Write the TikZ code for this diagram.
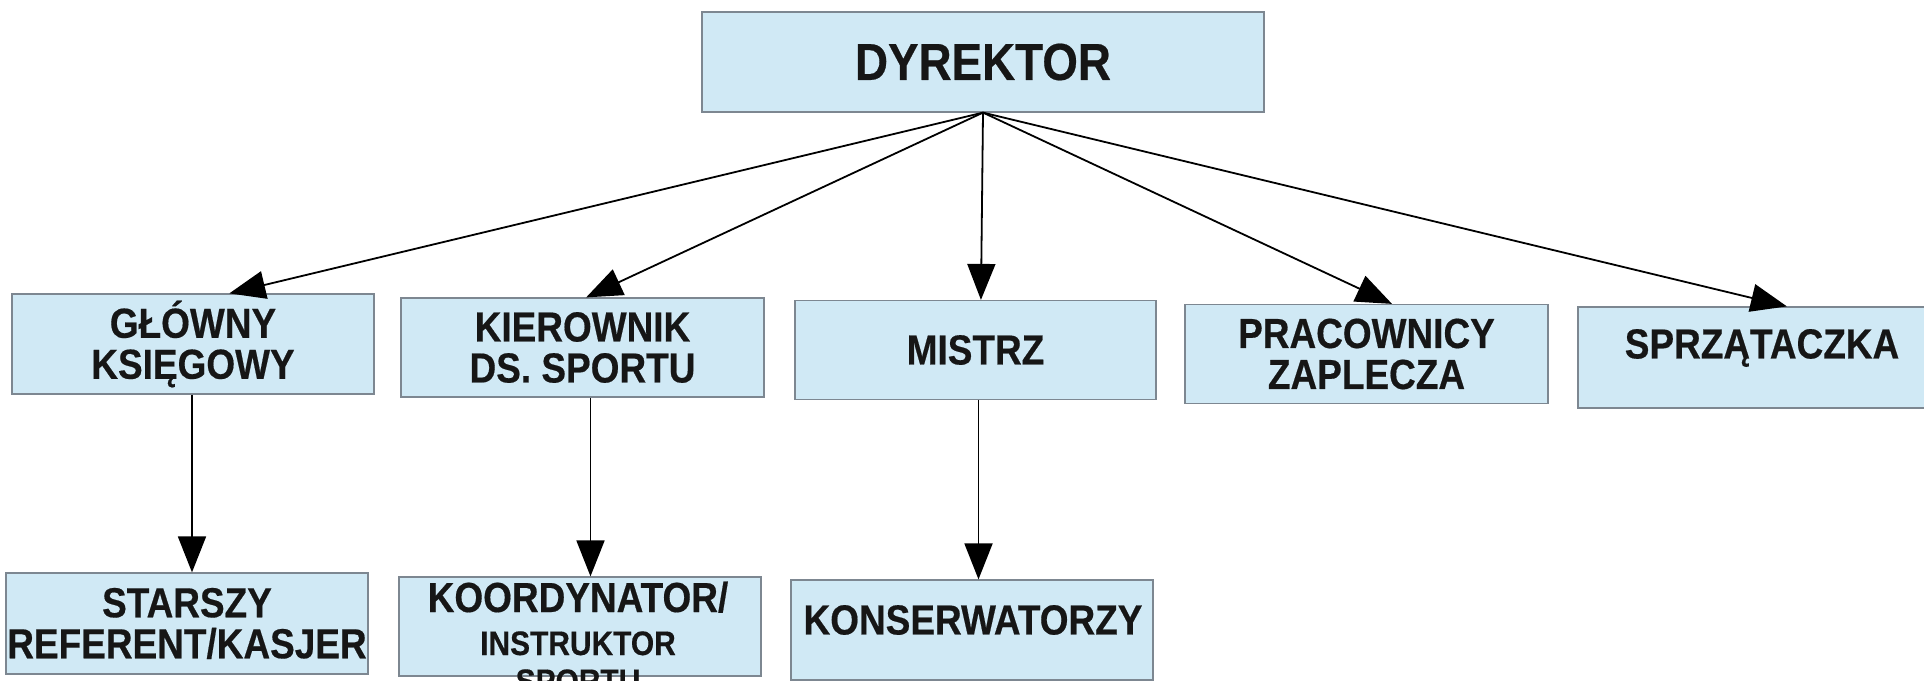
\documentclass[tikz,border=0pt]{standalone}
\usepackage{fontspec}
\setmainfont{Liberation Sans}[FakeStretch=0.88, BoldFeatures={FakeBold=0.4}]
\usetikzlibrary{arrows.meta,calc}
\definecolor{boxfill}{RGB}{208,233,245}
\definecolor{boxline}{RGB}{125,135,145}
\definecolor{ink}{RGB}{22,22,22}
\tikzset{
  box/.style={draw=boxline, fill=boxfill, line width=1.2pt, inner sep=0pt,
    align=center, text=ink, font=\bfseries\fontsize{42}{41}\selectfont},
  lbl/.style={inner sep=0pt, text=ink, font=\bfseries\fontsize{42}{41}\selectfont},
  lblsmall/.style={inner sep=0pt, text=ink, font=\bfseries\fontsize{34}{36}\selectfont},
  conn/.style={draw=black, line width=1.8pt, -{Triangle[length=36pt,width=28pt]}}
}
\begin{document}
\begin{tikzpicture}[x=1pt,y=-1pt]
\useasboundingbox (0,0) rectangle (1924,680);
\clip (0,0) rectangle (1924,680);
\fill[white] (0,0) rectangle (1924,680);

% top
\node[box, minimum width=562pt, minimum height=100pt,
      font=\bfseries\fontsize{52}{56}\selectfont] (dyr) at (983,62) {DYREKTOR};

% second row
\node[box, minimum width=362pt, minimum height=100pt] (glowny) at (193,344) {GŁÓWNY\\KSIĘGOWY};
\node[box, minimum width=363pt, minimum height=99pt] (kier) at (582.5,347.5) {KIEROWNIK\\DS. SPORTU};
\node[box, minimum width=361pt, minimum height=99pt] (mistrz) at (975.5,350) {MISTRZ};
\node[box, minimum width=363pt, minimum height=99pt] (prac) at (1366.5,354) {PRACOWNICY\\ZAPLECZA};
\node[box, minimum width=360pt, minimum height=101pt] (sprz) at (1758,357.5) {};
\node[lbl] (sprzt) at (1762,348) {SPRZĄTACZKA};

% third row
\node[box, minimum width=362pt, minimum height=101pt] (starszy) at (187,623.5) {STARSZY\\REFERENT/KASJER};
\node[box, minimum width=362pt, minimum height=99pt] (koord) at (580,626.5) {};
\node[lbl, anchor=base] (koordA) at (578,612) {KOORDYNATOR/};
\node[lblsmall, anchor=base] (koordB) at (578,655) {INSTRUKTOR};
\node[lblsmall, anchor=base] (koordC) at (578,693) {SPORTU};
\node[box, minimum width=362pt, minimum height=100pt] (kons) at (972,630) {};
\node[lbl] (konst) at (973,620) {KONSERWATORZY};

% connectors from the director
\draw[conn] (dyr.south) -- ($(glowny.north west)!0.60!(glowny.north east)$);
\draw[conn] (dyr.south) -- ($(kier.north west)!0.51!(kier.north east)$);
\draw[conn] (dyr.south) -- ($(mistrz.north west)!0.515!(mistrz.north east)$);
\draw[conn] (dyr.south) -- ($(prac.north west)!0.57!(prac.north east)$);
\draw[conn] (dyr.south) -- ($(sprz.north west)!0.58!(sprz.north east)$);

% vertical connectors
\coordinate (g1) at ($(glowny.south)+(-1,0)$);
\draw[conn] (g1) -- (g1 |- starszy.north);
\coordinate (k1) at ($(kier.south)+(8,0)$);
\draw[conn] (k1) -- (k1 |- koord.north);
\coordinate (m1) at ($(mistrz.south)+(3,0)$);
\draw[conn] (m1) -- (m1 |- kons.north);
\end{tikzpicture}
\end{document}
